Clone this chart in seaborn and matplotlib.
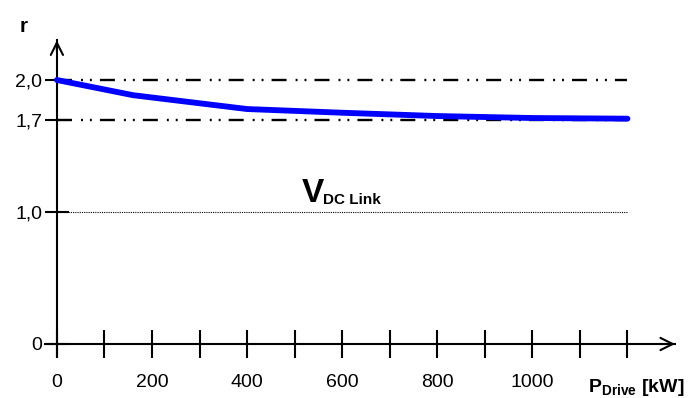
import matplotlib
matplotlib.use("Agg")
import matplotlib.pyplot as plt
import seaborn as sns
import pandas as pd

# curve values
p_drive = [0, 160, 400, 600, 800, 1000, 1200]
r_vals = [2.0, 1.885, 1.78, 1.752, 1.727, 1.712, 1.707]

x_ticks = list(range(0, 1300, 100))
x_labels = ["0", "", "200", "", "400", "", "600", "", "800", "", "1000", "", ""]
y_ticks = [0, 1.0, 1.7, 2.0]
y_labels = ["0", "1,0", "1,7", "2,0"]
ref_levels = [2.0, 1.7]
link_level = 1.0

sns.set_theme(style="white")
plt.rcParams["font.family"] = ["Liberation Sans", "DejaVu Sans"]
plt.rcParams["text.color"] = "black"
plt.rcParams["mathtext.fontset"] = "custom"
plt.rcParams["mathtext.rm"] = "Liberation Sans"
plt.rcParams["mathtext.bf"] = "Liberation Sans:bold"
plt.rcParams["lines.scale_dashes"] = False

df = pd.DataFrame({"p": p_drive, "r": r_vals})

fig = plt.figure(figsize=(6.88, 3.98), dpi=100)
W, H = 688, 398
# axes box in pixels: left 45, right 675, top 40.4, bottom 357.2
ax = fig.add_axes([45 / W, (H - 357.2) / H, 630 / W, (357.2 - 40.4) / H])
ax.set_xlim(-25, 1300)
ax.set_ylim(-0.1, 2.3)

# reference lines
for lev in ref_levels:
    ax.hlines(lev, 0, 1200, color="black", lw=1.7,
              linestyles=[(0, (10.8, 6.5, 1.4, 5.0, 1.4, 5.8))])
ax.hlines(link_level, 0, 1200, color="black", lw=0.8,
          linestyles=[(0, (0.8, 0.8))])

sns.lineplot(data=df, x="p", y="r", ax=ax, color="#0000ff", lw=4.2,
             solid_capstyle="round", zorder=5)

for s in ["top", "right"]:
    ax.spines[s].set_visible(False)
for s in ["left", "bottom"]:
    ax.spines[s].set_position(("data", 0))
    ax.spines[s].set_color("black")
    ax.spines[s].set_linewidth(1.5)

ax.set_xticks(x_ticks)
ax.set_xticklabels(x_labels)
ax.set_yticks(y_ticks)
ax.set_yticklabels(y_labels)
ax.tick_params(axis="x", bottom=True, direction="inout", length=19.5,
               width=1.5, pad=12, labelsize=14, colors="black")
ax.tick_params(axis="y", left=True, direction="inout", length=17,
               width=1.5, pad=2, labelsize=14, colors="black")
ax.set_xlabel("")
ax.set_ylabel("")

# arrow heads
ax.annotate("", xy=(1300, 0), xytext=(1270, 0), annotation_clip=False,
            arrowprops=dict(arrowstyle="->", lw=1.5, color="black",
                            mutation_scale=22, shrinkA=0, shrinkB=0))
ax.annotate("", xy=(0, 2.3), xytext=(0, 2.22), annotation_clip=False,
            arrowprops=dict(arrowstyle="->", lw=1.5, color="black",
                            mutation_scale=22, shrinkA=0, shrinkB=0))

# labels
fig.text(24 / W, 1 - 26 / H, "r", ha="center", va="center",
         fontsize=15, fontweight="bold", color="black")
fig.text(588 / W, 1 - 392 / H, r"$\mathbf{P}_{\mathbf{Drive}}$ [kW]",
         ha="left", va="baseline", fontsize=14, fontweight="bold",
         color="black")
ax.text(516, 1.076, "V", ha="left", va="baseline", fontsize=24,
        fontweight="bold", color="black")
ax.text(560, 1.06, "DC Link", ha="left", va="baseline", fontsize=11,
        fontweight="bold", color="black")

plt.savefig("out.png", dpi=100)
